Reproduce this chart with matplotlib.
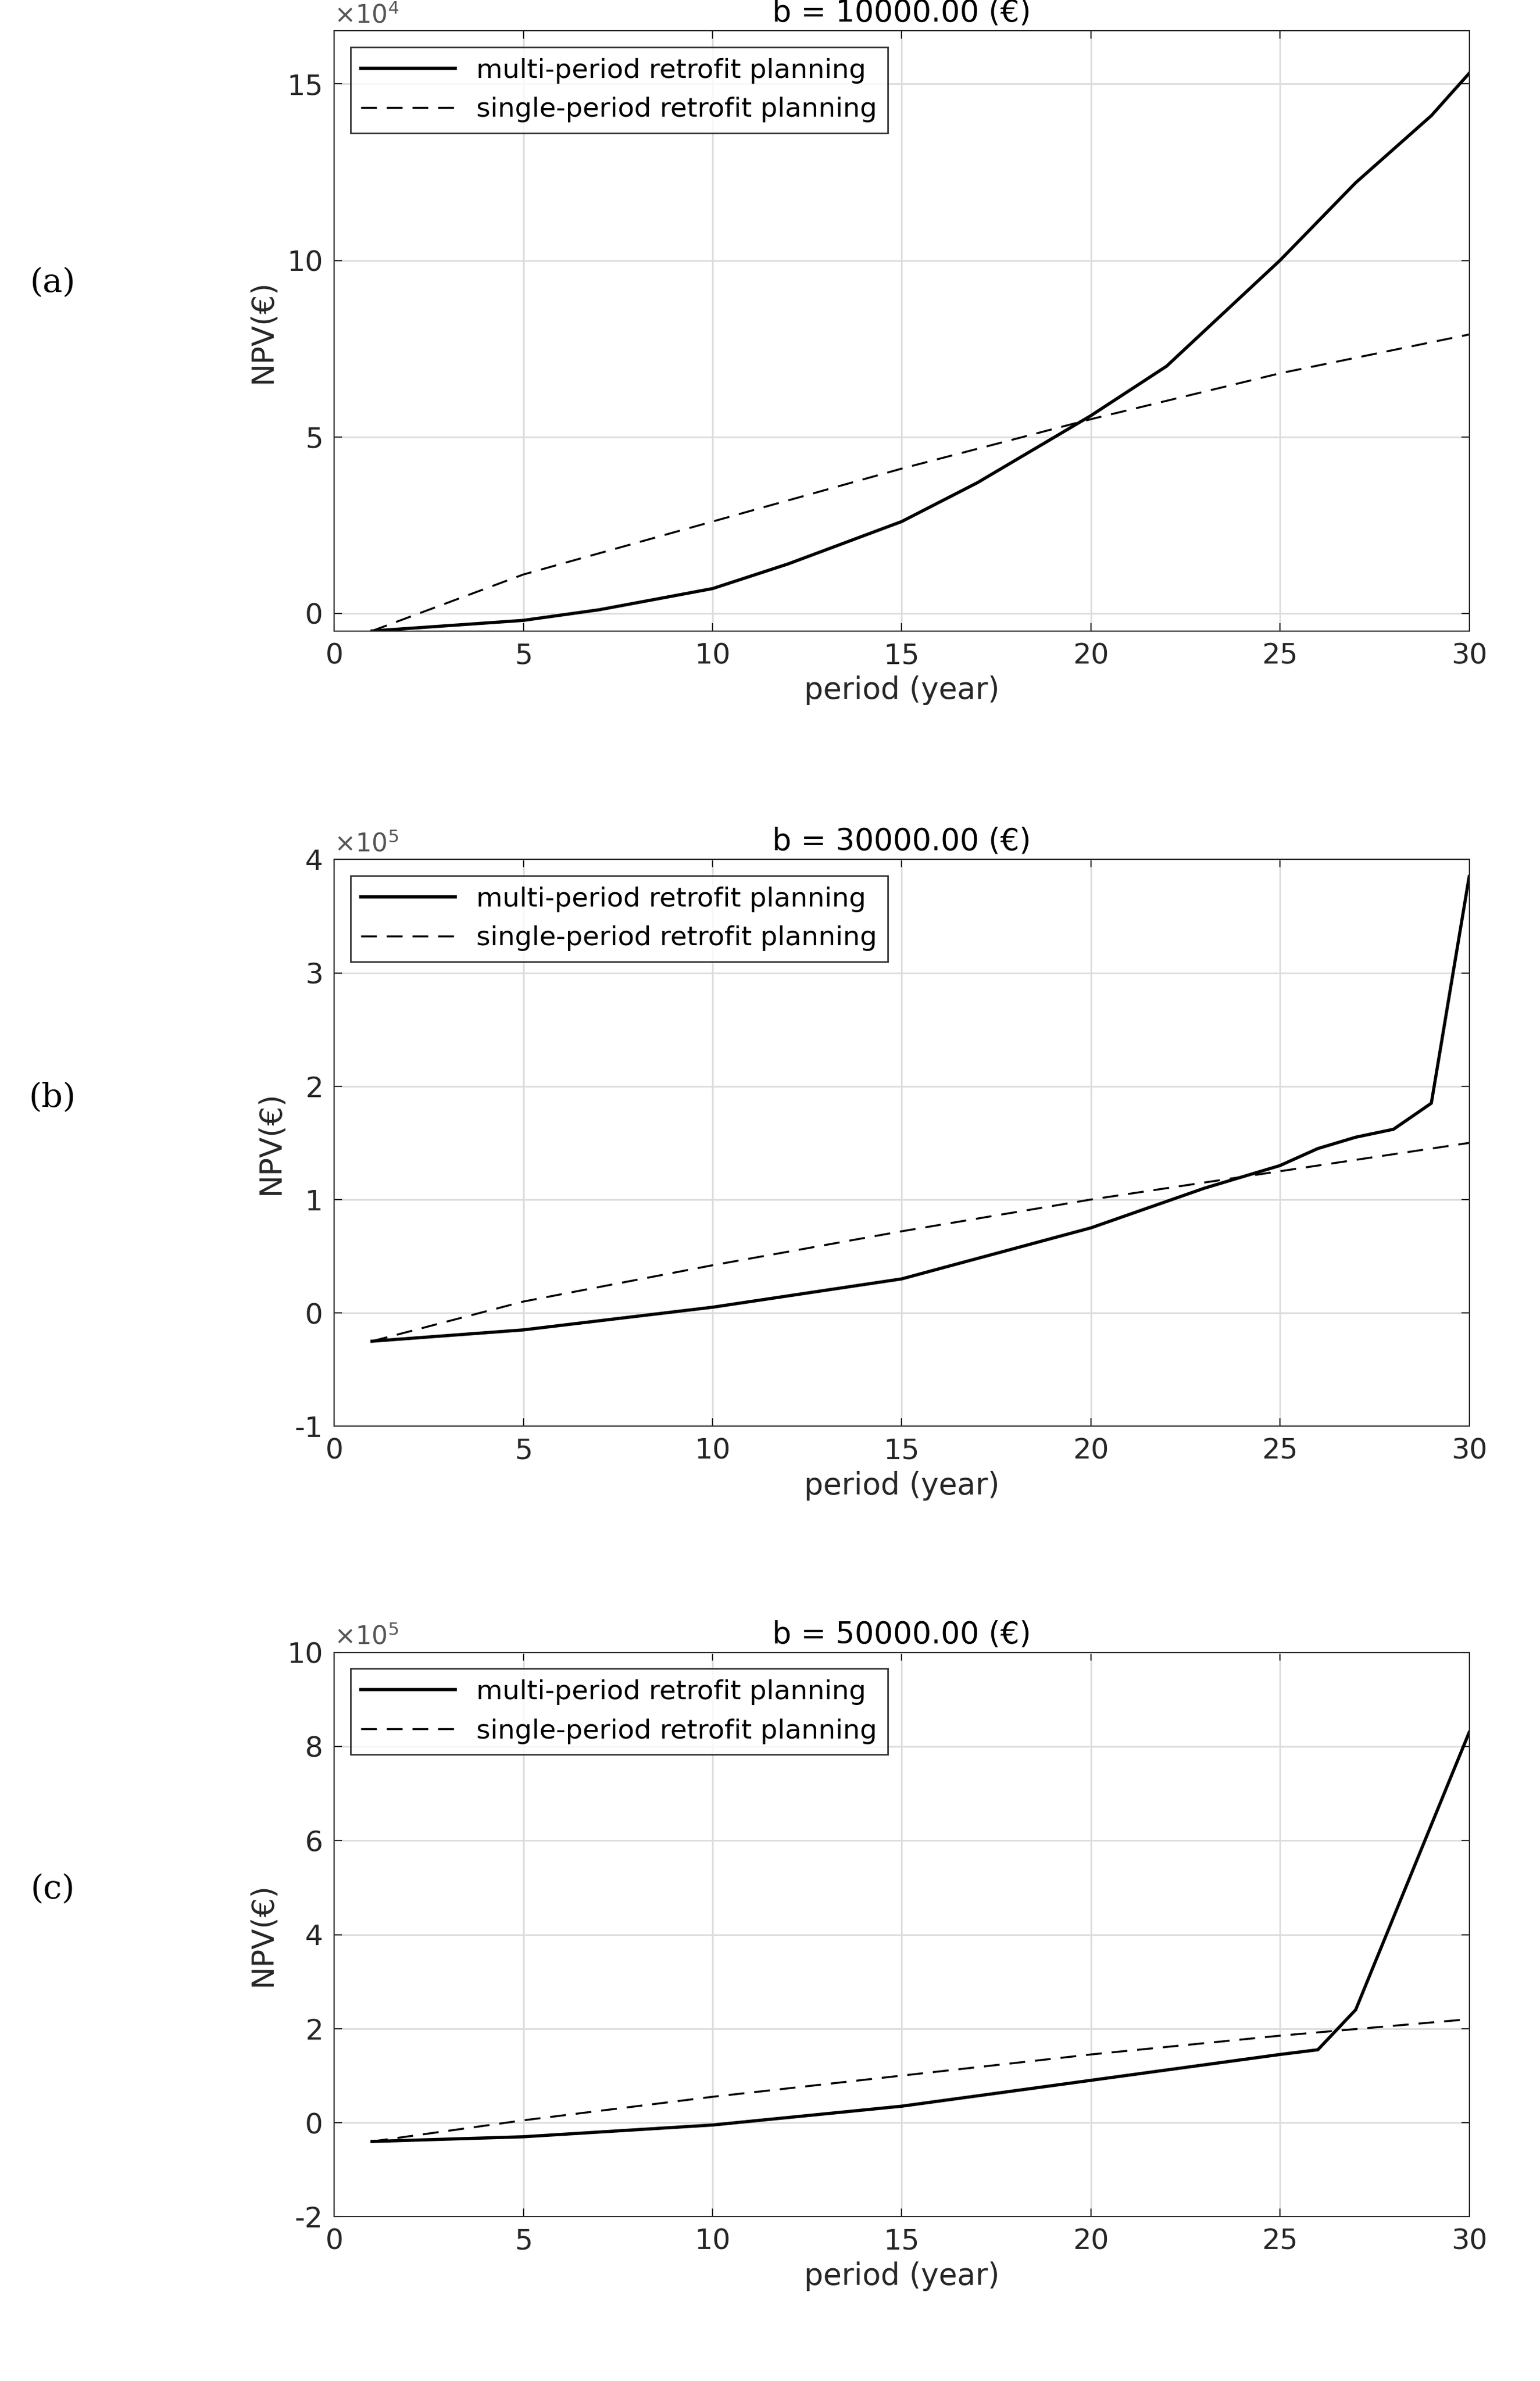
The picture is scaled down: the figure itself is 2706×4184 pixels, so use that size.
import numpy as np
import matplotlib.pyplot as plt

# panel (a), values in 1e4 EUR
years_a = [1, 3, 5, 7, 10, 12, 15, 17, 20, 22, 25, 27, 29, 30]
multi_a = [-0.5, -0.35, -0.2, 0.1, 0.7, 1.4, 2.6, 3.7, 5.6, 7.0, 10.0, 12.2, 14.1, 15.3]
single_yrs_a = [1, 5, 10, 15, 20, 25, 30]
single_a = [-0.5, 1.1, 2.6, 4.1, 5.5, 6.8, 7.9]

# panel (b), values in 1e5 EUR
years_b = [1, 5, 10, 15, 20, 23, 25, 26, 27, 28, 29, 30]
multi_b = [-0.25, -0.15, 0.05, 0.3, 0.75, 1.1, 1.3, 1.45, 1.55, 1.62, 1.85, 3.85]
single_yrs_b = [1, 5, 10, 15, 20, 25, 30]
single_b = [-0.25, 0.1, 0.42, 0.72, 1.0, 1.25, 1.5]

# panel (c), values in 1e5 EUR
years_c = [1, 5, 10, 15, 20, 25, 26, 27, 30]
multi_c = [-0.4, -0.3, -0.05, 0.35, 0.9, 1.45, 1.55, 2.4, 8.3]
single_yrs_c = [1, 5, 10, 15, 20, 25, 30]
single_c = [-0.4, 0.05, 0.55, 1.0, 1.45, 1.85, 2.2]

panels = [
    ('(a)', 'b = 10000.00 (€)', years_a, multi_a, single_yrs_a, single_a, 4, (-0.5, 16.5), [0, 5, 10, 15]),
    ('(b)', 'b = 30000.00 (€)', years_b, multi_b, single_yrs_b, single_b, 5, (-1, 4), [-1, 0, 1, 2, 3, 4]),
    ('(c)', 'b = 50000.00 (€)', years_c, multi_c, single_yrs_c, single_c, 5, (-2, 10), [-2, 0, 2, 4, 6, 8, 10]),
]
rects = [[0.217, 0.735, 0.737, 0.252],
         [0.217, 0.401, 0.737, 0.238],
         [0.217, 0.069, 0.737, 0.237]]

fig = plt.figure(figsize=(27.06, 41.84), dpi=100)
fs = 36
gray = '#262626'
for rect, (lab, title, yrs, multi, syrs, single, exp, ylim, yt) in zip(rects, panels):
    ax = fig.add_axes(rect)
    ax.plot(yrs, multi, color='black', lw=4, label='multi-period retrofit planning')
    ax.plot(syrs, single, color='black', lw=2.5, ls=(0, (8, 5)), label='single-period retrofit planning')
    ax.set_xlim(0, 30)
    ax.set_ylim(*ylim)
    ax.set_xticks([0, 5, 10, 15, 20, 25, 30])
    ax.set_yticks(yt)
    ax.set_yticklabels([str(v) for v in yt])
    ax.grid(True, color='#dcdcdc', lw=2)
    ax.tick_params(labelsize=fs, colors=gray, length=10, width=1.5, direction='in',
                   top=True, right=True, pad=14)
    for s in ax.spines.values():
        s.set_color(gray)
        s.set_linewidth(1.5)
    ax.set_title(title, fontsize=fs + 2, color='black', pad=12)
    ax.set_xlabel('period (year)', fontsize=fs + 2, color=gray, labelpad=8)
    ax.set_ylabel('NPV(€)', fontsize=fs + 2, color=gray, labelpad=12)
    ax.text(0.0, 1.005, r'$\times10^{%d}$' % exp, transform=ax.transAxes, fontsize=fs - 4,
            color='#555555', va='bottom')
    leg = ax.legend(loc='upper left', fontsize=fs - 2, frameon=True, fancybox=False,
                    edgecolor='black', handlelength=3.5, borderaxespad=0.6)
    leg.get_frame().set_linewidth(2)
    fig.text(0.034, rect[1] + rect[3] * 0.58, lab, fontsize=fs + 6, family='DejaVu Serif',
             ha='center', va='center')

fig.savefig('out.png', dpi=100)
